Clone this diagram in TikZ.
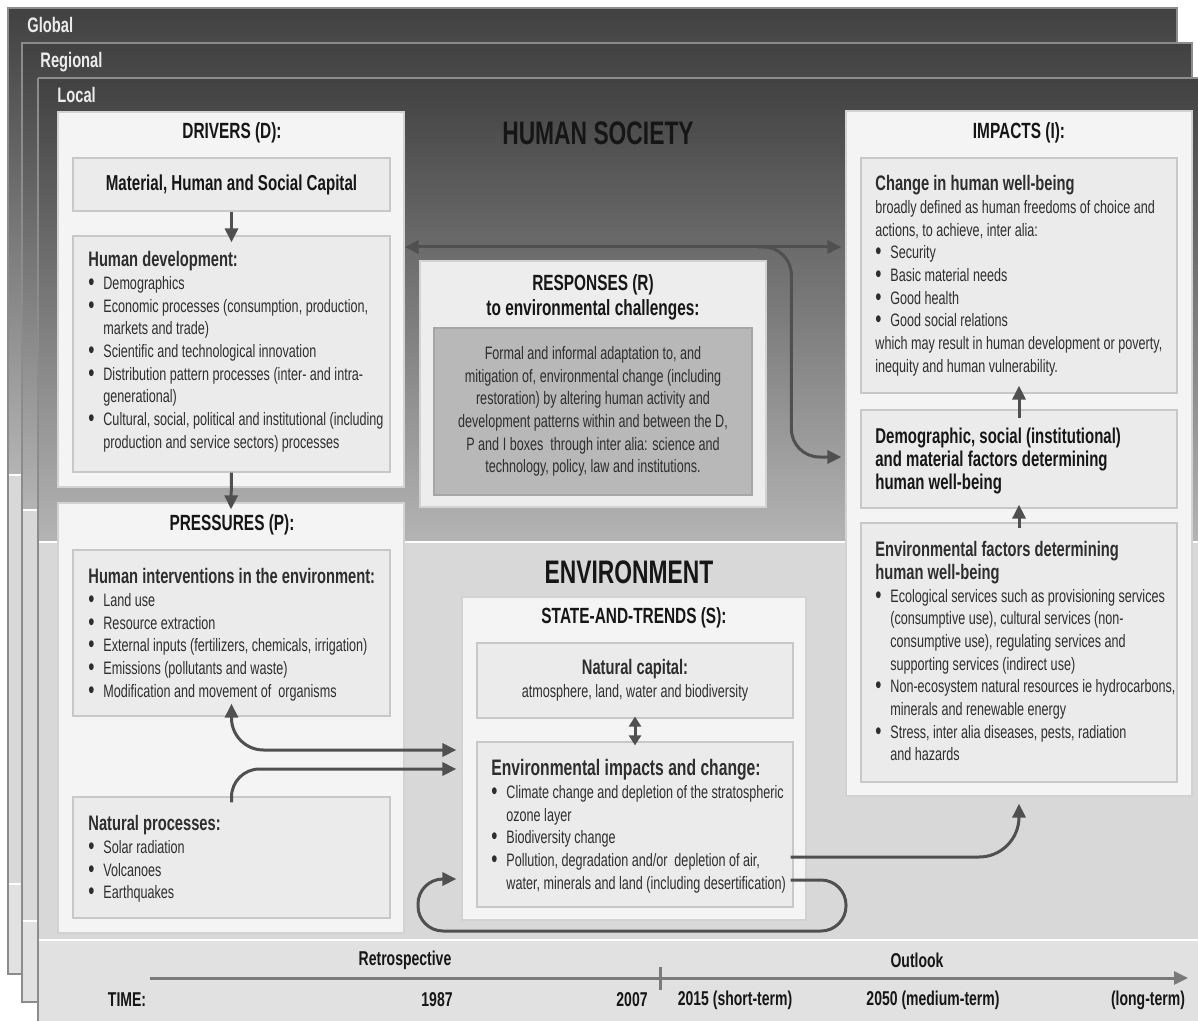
\documentclass[tikz,border=0pt]{standalone}
\usepackage{fontspec}
\setmainfont{Liberation Sans}[FakeStretch=0.70]
\usetikzlibrary{arrows.meta,fit,calc}
\definecolor{outerfill}{HTML}{F4F4F4}
\definecolor{boxline}{HTML}{D2D2D2}
\definecolor{innerfill}{HTML}{EBEBEB}
\definecolor{innerline}{HTML}{C8C8C8}
\definecolor{respfill}{HTML}{B8B8B8}
\definecolor{respline}{HTML}{A6A6A6}
\definecolor{arrcol}{HTML}{505050}
\definecolor{txtdark}{HTML}{161616}
\definecolor{txtbody}{HTML}{2E2E2E}
\definecolor{envfill}{HTML}{D8D8D8}
\definecolor{timefill}{HTML}{E1E1E1}
\definecolor{layertop}{HTML}{414141}
\definecolor{layermid}{HTML}{B4B4B4}
\definecolor{panelline}{HTML}{8C8C8C}
\definecolor{tlcol}{HTML}{7A7A7A}
\newcommand{\bhead}[1]{{\bfseries\fontsize{10.5}{11.35}\selectfont #1}}
\newcommand{\blt}{\makebox[7.5pt][l]{\raisebox{-0.5pt}{\fontsize{12.5}{11}\selectfont\textbullet}}}
\newcommand{\cont}{\hspace*{7.5pt}}
\tikzset{
  obox/.style={draw=boxline, fill=outerfill, line width=0.6pt, inner sep=0pt},
  ibox/.style={draw=innerline, fill=innerfill, line width=0.6pt, inner sep=0pt},
  ttl/.style={font=\bfseries\fontsize{11}{12.5}\selectfont, text=txtdark, inner sep=0pt},
  bigttl/.style={font=\bfseries\fontsize{16.3}{18}\selectfont, text=txtdark, inner sep=0pt},
  body/.style={font=\fontsize{9}{11.35}\selectfont, text=txtbody, align=left, anchor=north west, inner sep=0pt},
  layerttl/.style={font=\bfseries\fontsize{10.5}{12}\selectfont, text=white!92!black, anchor=west, inner sep=0pt},
  tlab/.style={font=\bfseries\fontsize{10}{11}\selectfont, text=txtdark, inner sep=0pt},
  arr/.style={draw=arrcol, line width=1.5pt, -{Triangle[length=7pt,width=6.5pt]}},
  darr/.style={draw=arrcol, line width=1.5pt, {Triangle[length=7pt,width=6.5pt]}-{Triangle[length=7pt,width=6.5pt]}},
  sdarr/.style={draw=arrcol, line width=1.5pt, {Triangle[length=5pt,width=6pt]}-{Triangle[length=5pt,width=6pt]}},
  tl/.style={draw=tlcol, line width=1.5pt, -{Triangle[length=7pt,width=6.5pt]}},
}
\begin{document}
\begin{tikzpicture}[x=0.5pt,y=-0.5pt]
\useasboundingbox (0,0) rectangle (1198,1021);
\fill[white] (0,0) rectangle (1198,1021);

% ---------- Global layer
\shade[top color=layertop, bottom color=layermid] (8,8) rectangle (1177,475);
\fill[envfill] (8,475) rectangle (1177,884);
\fill[timefill] (8,884) rectangle (1177,974);
\draw[white, line width=0.8pt] (8,475) -- (1177,475) (8,884) -- (1177,884);
\draw[panelline, line width=0.6pt] (8,8) rectangle (1177,974);
\node[layerttl] (glob) at (27,25) {Global};

% ---------- Regional layer
\shade[top color=layertop, bottom color=layermid] (22,43) rectangle (1192,510);
\fill[envfill] (22,510) rectangle (1192,921);
\fill[timefill] (22,921) rectangle (1192,1002);
\draw[white, line width=0.8pt] (22,510) -- (1192,510) (22,921) -- (1192,921);
\draw[panelline, line width=0.6pt] (22,43) rectangle (1192,1002);
\node[layerttl] (regi) at (40,62) {Regional};

% ---------- Local layer
\shade[top color=layertop, bottom color=layermid] (38,78) rectangle (1198,542);
\fill[envfill] (38,542) rectangle (1198,940);
\fill[timefill] (38,940) rectangle (1198,1021);
\draw[white, line width=0.8pt] (38,542) -- (1198,542) (38,940) -- (1198,940);
\draw[panelline, line width=0.6pt] (38,78) -- (1198,78) (38,78) -- (38,1021);
\node[layerttl] (loca) at (57,95) {Local};

% ---------- big titles
\node[bigttl] (hs) at (598,133) {HUMAN SOCIETY};
\node[bigttl] (env) at (629,572) {ENVIRONMENT};

% ---------- DRIVERS
\node[obox, fit={(58,112) (404,487)}] (drv) {};
\node[ttl] (drvt) at (232,133) {DRIVERS (D):};
\node[ibox, fit={(73,158) (390,211)}] (mc) {};
\node[ttl, font=\bfseries\fontsize{10.8}{12}\selectfont] (mct) at (mc.center) {Material, Human and Social Capital};
\node[ibox, fit={(73,236) (390,472)}] (hd) {};
\node[body] (hdt) at (88,251) {\bhead{Human development:}\\
\blt Demographics\\
\blt Economic processes (consumption, production,\\
\cont markets and trade)\\
\blt Scientific and technological innovation\\
\blt Distribution pattern processes (inter- and intra-\\
\cont generational)\\
\blt Cultural, social, political and institutional (including\\
\cont production and service sectors) processes};

% ---------- PRESSURES
\node[obox, fit={(58,503) (404,933)}] (pr) {};
\node[ttl] (prt) at (232,525) {PRESSURES (P):};
\node[ibox, fit={(73,550) (390,716)}] (hi) {};
\node[body] (hit) at (88,568) {\bhead{Human interventions in the environment:}\\
\blt Land use\\
\blt Resource extraction\\
\blt External inputs (fertilizers, chemicals, irrigation)\\
\blt Emissions (pollutants and waste)\\
\blt Modification and movement of\ \ organisms};
\node[ibox, fit={(73,797) (390,918)}] (np) {};
\node[body] (npt) at (88,815) {\bhead{Natural processes:}\\
\blt Solar radiation\\
\blt Volcanoes\\
\blt Earthquakes};

% ---------- RESPONSES
\node[obox, fill=outerfill!97!black, fit={(420,261) (766,507)}] (resp) {};
\node[ttl, align=center] (respt) at (593,297) {RESPONSES (R)\\to environmental challenges:};
\node[ibox, fill=respfill, draw=respline, fit={(434,328) (752,495)}] (respin) {};
\node[body, align=center, anchor=center] (respx) at (respin.center) {Formal and informal adaptation to, and\\
mitigation of, environmental change (including\\
restoration) by altering human activity and\\
development patterns within and between the D,\\
P and I boxes\ \ through inter alia: science and\\
technology, policy, law and institutions.};

% ---------- IMPACTS
\node[obox, fit={(846,111) (1192,796)}] (imp) {};
\node[ttl] (impt) at (1019,133) {IMPACTS (I):};
\node[ibox, fit={(861,158) (1177,393)}] (chw) {};
\node[body] (chwt) at (875,175) {\bhead{Change in human well-being}\\
broadly defined as human freedoms of choice and\\
actions, to achieve, inter alia:\\
\blt Security\\
\blt Basic material needs\\
\blt Good health\\
\blt Good social relations\\
which may result in human development or poverty,\\
inequity and human vulnerability.};
\node[ibox, fit={(861,410) (1177,508)}] (dem) {};
\node[body, font=\bfseries\fontsize{10.7}{11.35}\selectfont, text=txtdark] (demt) at (875,428) {Demographic, social (institutional)\\
and material factors determining\\
human well-being};
\node[ibox, fit={(861,523) (1177,782)}] (ef) {};
\node[body] (eft) at (875,541) {\bhead{Environmental factors determining}\\
\bhead{human well-being}\\
\blt Ecological services such as provisioning services\\
\cont (consumptive use), cultural services (non-\\
\cont consumptive use), regulating services and\\
\cont supporting services (indirect use)\\
\blt Non-ecosystem natural resources ie hydrocarbons,\\
\cont minerals and renewable energy\\
\blt Stress, inter alia diseases, pests, radiation\\
\cont and hazards};

% ---------- STATE-AND-TRENDS
\node[obox, fit={(462,597) (806,920)}] (st) {};
\node[ttl] (stt) at (634,618) {STATE-AND-TRENDS (S):};
\node[ibox, fit={(477,643) (793,718)}] (nc) {};
\node[body, align=center, anchor=center] (nct) at (nc.center) {\bhead{Natural capital:}\\
atmosphere, land, water and biodiversity};
\node[ibox, fit={(477,742) (793,907)}] (ei) {};
\node[body] (eit) at (491,759) {{\bfseries\fontsize{11.2}{11.35}\selectfont Environmental impacts and change:}\\
\blt Climate change and depletion of the stratospheric\\
\cont ozone layer\\
\blt Biodiversity change\\
\blt Pollution, degradation and/or\ \ depletion of air,\\
\cont water, minerals and land (including desertification)};

% ---------- connectors
\draw[arr] (mc.south) -- ([yshift=-3.5pt]hd.north);
\draw[arr] (hd.south) -- ([yshift=-3.5pt]pr.north);
\coordinate (rline) at (600,247);
\coordinate (rbr) at (758,247);
\draw[darr, shorten >=2pt] (rline -| drv.east) -- (rline -| imp.west);
\draw[arr, rounded corners=14pt, shorten >=2pt] (rbr) -| ($(imp.west |- dem.west)+(-54,-2)$) -- ($(imp.west |- dem.west)+(0,-2)$);
\draw[arr] ([yshift=-4.5pt]dem.north) -- ([yshift=4pt]chw.south);
\draw[arr] ([yshift=-3pt]ef.north) -- ([yshift=2pt]dem.south);
\draw[sdarr] ([yshift=1pt]nc.south) -- ([yshift=-2pt]ei.north);
\draw[darr, rounded corners=16pt] ([yshift=6.5pt]hi.south) |- ($(st.west |- 0,750)+(-5,0)$);
\draw[arr, rounded corners=14pt] ([yshift=-3pt]np.north) |- ($(st.west |- 0,769)+(-5,0)$);
\draw[arr, rounded corners=20pt] ($(ei.east |- 0,857)+(-3,0)$) -| ($(ef.south |- imp.south)+(0,7)$);
\draw[arr, rounded corners=12.5pt] ($(ei.east |- 0,880)+(-3,0)$) -- (846,880) -- (846,931) -- (418,931) -- (418,879) -- ($(st.west |- 0,879)+(-5,0)$);

% ---------- time band
\node[tlab] (retro) at (405,960) {Retrospective};
\node[tlab] (outl) at (917,960) {Outlook};
\coordinate (t0) at (150,978);
\coordinate (t1) at (1188,978);
\coordinate (tk) at (660,978);
\draw[tl] (t0) -- (t1);
\draw[tlcol, line width=1.5pt] ($(tk)+(0,-11)$) -- ($(tk)+(0,12)$);
\node[tlab] (ttime) at (127,1000) {TIME:};
\node[tlab] (y87) at (437,1000) {1987};
\node[tlab] (y07) at (632,1000) {2007};
\node[tlab] (y15) at (735,1000) {2015 (short-term)};
\node[tlab] (y50) at (933,1000) {2050 (medium-term)};
\node[tlab] (ylt) at (1148,1000) {(long-term)};
\end{tikzpicture}
\end{document}
